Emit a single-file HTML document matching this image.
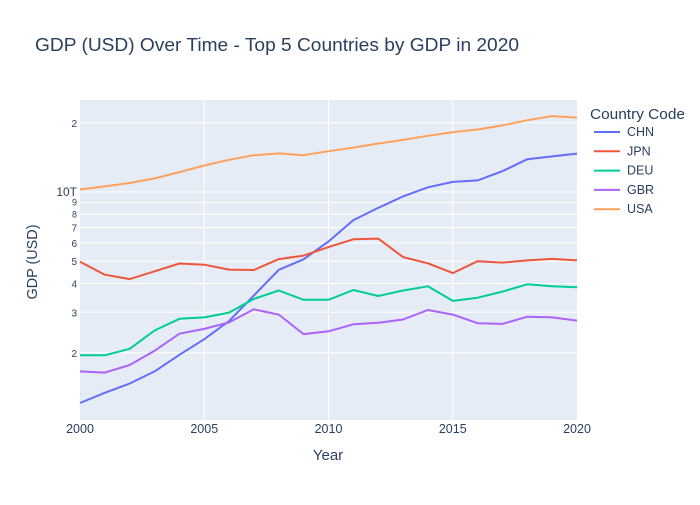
<!DOCTYPE html>
<html><head><meta charset="utf-8"><style>
body{margin:0;background:#fff;font-family:"Liberation Sans",sans-serif}
text{font-family:"Liberation Sans",sans-serif}
</style></head><body>
<svg id="chart" width="700" height="500" xmlns="http://www.w3.org/2000/svg">
<rect width="700" height="500" fill="#fff"/>
<text x="35" y="51" font-size="18" textLength="484" lengthAdjust="spacingAndGlyphs" fill="#2a3f5f">GDP (USD) Over Time - Top 5 Countries by GDP in 2020</text>
<rect x="80" y="100" width="497" height="320" fill="#e5ecf6"/>
<g id="grid"></g><g id="series"></g><g id="axes"></g>
<text x="328" y="460" font-size="15" fill="#2a3f5f" text-anchor="middle">Year</text>
<text transform="translate(37,262) rotate(-90)" font-size="15" textLength="75" lengthAdjust="spacingAndGlyphs" fill="#2a3f5f" text-anchor="middle">GDP (USD)</text>
<text x="590" y="119" font-size="15" textLength="95" lengthAdjust="spacingAndGlyphs" fill="#2a3f5f">Country Code</text>
<g id="legend"></g>
</svg>
<script>
const years=[2000,2001,2002,2003,2004,2005,2006,2007,2008,2009,2010,2011,2012,2013,2014,2015,2016,2017,2018,2019,2020];
const seriesNames=["CHN","JPN","DEU","GBR","USA"];
const colors=["#636efa","#EF553B","#00cc96","#ab63fa","#FFA15A"];
const chn=[1.21,1.34,1.47,1.66,1.96,2.29,2.75,3.55,4.59,5.10,6.09,7.55,8.53,9.57,10.48,11.06,11.23,12.31,13.89,14.28,14.69];
const jpn=[4.97,4.37,4.18,4.52,4.89,4.83,4.60,4.58,5.11,5.29,5.76,6.23,6.27,5.21,4.90,4.44,5.00,4.93,5.04,5.12,5.04];
const deu=[1.95,1.95,2.08,2.50,2.81,2.85,2.99,3.43,3.73,3.40,3.40,3.75,3.53,3.73,3.89,3.36,3.47,3.69,3.97,3.89,3.85];
const gbr=[1.66,1.64,1.77,2.04,2.42,2.54,2.71,3.09,2.93,2.41,2.48,2.66,2.70,2.79,3.07,2.93,2.69,2.67,2.87,2.85,2.76];
const usa=[10.25,10.58,10.94,11.46,12.21,13.04,13.81,14.45,14.71,14.45,15.05,15.6,16.25,16.84,17.55,18.21,18.7,19.48,20.53,21.38,21.06];
const xTicks=[2000,2005,2010,2015,2020];
const yTickVals=[2,3,4,5,6,7,8,9,10,20];
const yTickLabels=["2","3","4","5","6","7","8","9","10T","2"];
const allSeries=[chn,jpn,deu,gbr,usa];
const NS="http://www.w3.org/2000/svg";
const X=v=>80+(v-2000)/20*497;
const Y=v=>192-Math.log10(v/10)*230;
function mk(tag,attrs,parent){const e=document.createElementNS(NS,tag);for(const k in attrs)e.setAttribute(k,attrs[k]);parent.appendChild(e);return e;}
const grid=document.getElementById('grid'),axes=document.getElementById('axes'),ser=document.getElementById('series'),leg=document.getElementById('legend');
xTicks.forEach(t=>{
 if(t>2000&&t<2020){const l=mk('line',{x1:X(t),x2:X(t),y1:100,y2:420,stroke:'#fff','stroke-width':1},grid);
 
 }
 const tx=mk('text',{x:X(t),y:433,'font-size':12.5,fill:'#2a3f5f','text-anchor':'middle'},axes);tx.textContent=t;
 
 
});
yTickVals.forEach((v,i)=>{
 const l=mk('line',{x1:80,x2:577,y1:Y(v),y2:Y(v),stroke:'#fff','stroke-width':1},grid);
 
 
 const big=yTickLabels[i]==="10T";
 const small=(v===8||v===9);
 const tx=mk('text',{x:77,y:Y(v)+(small?3:4),'font-size':big?12:(small?9:10),fill:'#2a3f5f','text-anchor':'end'},axes);tx.textContent=yTickLabels[i];
 
 
});
allSeries.forEach((s,i)=>{
 const d=s.map((v,j)=>(j?'L':'M')+X(years[j]).toFixed(1)+','+Y(v).toFixed(1)).join('');
 const p=mk('path',{d:d,fill:'none',stroke:colors[i],'stroke-width':2,'stroke-linejoin':'round'},ser);
 
 
 const yy=132+i*19.3;
 const g=mk('g',{},leg);
 
 
 mk('line',{x1:594,x2:620,y1:yy,y2:yy,stroke:colors[i],'stroke-width':2},g);
 const t=mk('text',{x:627,y:yy+4,'font-size':12.5,fill:'#2a3f5f'},g);t.textContent=seriesNames[i];
});
</script>
</body></html>
